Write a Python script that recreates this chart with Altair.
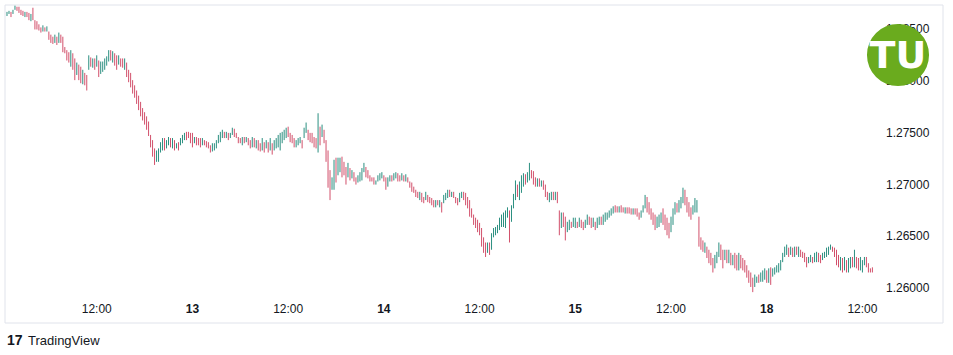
import altair as alt
import pandas as pd

# ---- 15-minute bars (price high / low) ----
high = [
    1.2867, 1.2868, 1.2867, 1.2869, 1.2873, 1.2872, 1.2872, 1.2869, 1.2868, 1.2867,
    1.2867, 1.2866, 1.2865, 1.2871, 1.2859, 1.2858, 1.2855, 1.2852, 1.2854, 1.2852,
    1.2853, 1.2848, 1.2845, 1.2843, 1.2845, 1.2843, 1.2847, 1.2845, 1.2843, 1.2833,
    1.2830, 1.2828, 1.2830, 1.2827, 1.2822, 1.2818, 1.2816, 1.2814, 1.2811, 1.2808,
    1.2806, 1.2825, 1.2823, 1.2822, 1.2822, 1.2825, 1.2820,
    1.2819, 1.2819, 1.2822, 1.2824, 1.2830, 1.2830, 1.2829, 1.2827, 1.2825, 1.2825,
    1.2822, 1.2822, 1.2822, 1.2818, 1.2811, 1.2808, 1.2801, 1.2796, 1.2791, 1.2786,
    1.2780, 1.2774, 1.2770, 1.2766, 1.2761, 1.2748, 1.2743, 1.2735, 1.2733, 1.2735,
    1.2741, 1.2745, 1.2745, 1.2743, 1.2746, 1.2745, 1.2745, 1.2743, 1.2740, 1.2741,
    1.2745, 1.2748, 1.2750, 1.2751, 1.2751, 1.2750, 1.2750, 1.2746, 1.2746, 1.2745,
    1.2745, 1.2745, 1.2743, 1.2742, 1.2741, 1.2738, 1.2740, 1.2740, 1.2743, 1.2748,
    1.2751, 1.2753, 1.2751, 1.2751, 1.2750, 1.2750, 1.2755, 1.2754, 1.2750, 1.2746,
    1.2745, 1.2746, 1.2746, 1.2746, 1.2745, 1.2743, 1.2746, 1.2745, 1.2743, 1.2743,
    1.2740, 1.2745, 1.2741, 1.2743, 1.2741, 1.2745, 1.2740, 1.2743, 1.2745, 1.2748,
    1.2750, 1.2751, 1.2753, 1.2755, 1.2756, 1.2750, 1.2748, 1.2745, 1.2743, 1.2745,
    1.2746, 1.2743, 1.2755, 1.2760, 1.2753, 1.2750, 1.2750, 1.2746, 1.2745, 1.2769,
    1.2756, 1.2758, 1.2753, 1.2743, 1.2733, 1.2714, 1.2707, 1.2724, 1.2726, 1.2726,
    1.2726, 1.2727, 1.2722, 1.2717, 1.2721, 1.2716, 1.2714, 1.2712, 1.2707, 1.2709,
    1.2712, 1.2716, 1.2721, 1.2717, 1.2714, 1.2709, 1.2707, 1.2707, 1.2704, 1.2709,
    1.2711, 1.2712, 1.2709, 1.2707, 1.2707, 1.2709, 1.2709, 1.2711, 1.2712, 1.2711,
    1.2709, 1.2711, 1.2709, 1.2710, 1.2707, 1.2703, 1.2702, 1.2698, 1.2695, 1.2693,
    1.2693, 1.2692, 1.2688, 1.2693, 1.2690, 1.2688, 1.2687, 1.2685, 1.2685, 1.2685,
    1.2685, 1.2683, 1.2690, 1.2692, 1.2695, 1.2695, 1.2693, 1.2693, 1.2688, 1.2687,
    1.2692, 1.2693, 1.2693, 1.2692, 1.2688, 1.2685, 1.2677, 1.2671, 1.2668, 1.2666,
    1.2663, 1.2658, 1.2649, 1.2644, 1.2644, 1.2644, 1.2653, 1.2658, 1.2659, 1.2661,
    1.2668, 1.2671, 1.2673, 1.2675, 1.2678, 1.2675,
    1.2680, 1.2691, 1.2704, 1.2700, 1.2703, 1.2709, 1.2711, 1.2710, 1.2712, 1.2721,
    1.2714, 1.2713, 1.2707, 1.2706, 1.2706, 1.2704, 1.2704, 1.2700, 1.2693, 1.2692,
    1.2693, 1.2693, 1.2693, 1.2693, 1.2675, 1.2673, 1.2673, 1.2669, 1.2664, 1.2666,
    1.2664, 1.2668, 1.2668, 1.2664, 1.2668, 1.2666, 1.2664, 1.2666, 1.2671, 1.2669,
    1.2668, 1.2668, 1.2664, 1.2668, 1.2669, 1.2669, 1.2671, 1.2673, 1.2673,
    1.2675, 1.2677, 1.2679, 1.2680, 1.2679, 1.2679, 1.2680, 1.2678, 1.2678, 1.2678,
    1.2678, 1.2677, 1.2677, 1.2677, 1.2677, 1.2673, 1.2675, 1.2680, 1.2690, 1.2688,
    1.2683, 1.2677, 1.2673, 1.2671, 1.2669, 1.2671, 1.2673, 1.2677, 1.2671, 1.2668,
    1.2663, 1.2669, 1.2677, 1.2683, 1.2682, 1.2685, 1.2688, 1.2697, 1.2695, 1.2688,
    1.2683, 1.2678, 1.2680, 1.2687, 1.2685, 1.2669, 1.2649, 1.2646, 1.2644, 1.2640,
    1.2637, 1.2634, 1.2629, 1.2632, 1.2635, 1.2644, 1.2642, 1.2637, 1.2637, 1.2637,
    1.2637, 1.2634, 1.2632, 1.2634, 1.2632, 1.2634, 1.2632, 1.2629, 1.2627, 1.2622,
    1.2617, 1.2615, 1.2610, 1.2613, 1.2611, 1.2613, 1.2615, 1.2617, 1.2619, 1.2617,
    1.2619, 1.2620, 1.2619, 1.2620, 1.2622, 1.2624, 1.2627, 1.2634, 1.2640, 1.2642,
    1.2639, 1.2640, 1.2639, 1.2640, 1.2640, 1.2640, 1.2637, 1.2635, 1.2634, 1.2630,
    1.2630, 1.2632, 1.2630, 1.2634, 1.2635, 1.2634, 1.2632, 1.2634, 1.2635, 1.2639,
    1.2640, 1.2642, 1.2640, 1.2639, 1.2637, 1.2632, 1.2630, 1.2629, 1.2630, 1.2627,
    1.2629, 1.2630, 1.2630, 1.2637, 1.2630, 1.2629, 1.2630, 1.2627, 1.2630, 1.2630,
    1.2624, 1.2619, 1.2620,
]

low = [
    1.2863, 1.2865, 1.2862, 1.2865, 1.2869, 1.2868, 1.2866, 1.2864, 1.2863, 1.2862,
    1.2862, 1.2859, 1.2858, 1.2859, 1.2850, 1.2850, 1.2849, 1.2847, 1.2848, 1.2848,
    1.2848, 1.2840, 1.2837, 1.2836, 1.2837, 1.2835, 1.2837, 1.2837, 1.2828, 1.2827,
    1.2820, 1.2818, 1.2814, 1.2811, 1.2801, 1.2806, 1.2801, 1.2798, 1.2797, 1.2796,
    1.2791, 1.2811, 1.2814, 1.2813, 1.2811, 1.2814, 1.2804,
    1.2807, 1.2809, 1.2811, 1.2815, 1.2819, 1.2820, 1.2818, 1.2815, 1.2811, 1.2816,
    1.2814, 1.2813, 1.2811, 1.2804, 1.2799, 1.2794, 1.2788, 1.2784, 1.2778, 1.2772,
    1.2766, 1.2762, 1.2758, 1.2753, 1.2747, 1.2736, 1.2727, 1.2719, 1.2722, 1.2722,
    1.2731, 1.2733, 1.2733, 1.2735, 1.2738, 1.2736, 1.2735, 1.2733, 1.2735, 1.2733,
    1.2738, 1.2740, 1.2743, 1.2743, 1.2745, 1.2740, 1.2736, 1.2740, 1.2738, 1.2738,
    1.2736, 1.2738, 1.2738, 1.2736, 1.2735, 1.2731, 1.2732, 1.2733, 1.2735, 1.2740,
    1.2741, 1.2745, 1.2745, 1.2745, 1.2743, 1.2745, 1.2748, 1.2746, 1.2745, 1.2740,
    1.2740, 1.2738, 1.2740, 1.2741, 1.2738, 1.2735, 1.2736, 1.2736, 1.2735, 1.2733,
    1.2732, 1.2733, 1.2731, 1.2735, 1.2731, 1.2733, 1.2729, 1.2733, 1.2735, 1.2736,
    1.2733, 1.2740, 1.2743, 1.2745, 1.2746, 1.2741, 1.2740, 1.2736, 1.2736, 1.2738,
    1.2740, 1.2735, 1.2745, 1.2750, 1.2743, 1.2741, 1.2740, 1.2736, 1.2735, 1.2731,
    1.2738, 1.2746, 1.2740, 1.2722, 1.2697, 1.2685, 1.2695, 1.2695, 1.2702, 1.2709,
    1.2712, 1.2707, 1.2709, 1.2700, 1.2707, 1.2704, 1.2706, 1.2703, 1.2700, 1.2702,
    1.2703, 1.2704, 1.2712, 1.2707, 1.2706, 1.2703, 1.2703, 1.2700, 1.2700, 1.2703,
    1.2704, 1.2706, 1.2703, 1.2695, 1.2698, 1.2703, 1.2703, 1.2704, 1.2706, 1.2703,
    1.2703, 1.2704, 1.2703, 1.2703, 1.2702, 1.2697, 1.2693, 1.2692, 1.2688, 1.2687,
    1.2685, 1.2683, 1.2682, 1.2685, 1.2683, 1.2682, 1.2680, 1.2678, 1.2678, 1.2680,
    1.2678, 1.2673, 1.2682, 1.2685, 1.2687, 1.2688, 1.2688, 1.2687, 1.2682, 1.2680,
    1.2683, 1.2687, 1.2685, 1.2680, 1.2677, 1.2669, 1.2668, 1.2661, 1.2658, 1.2654,
    1.2651, 1.2640, 1.2634, 1.2630, 1.2634, 1.2632, 1.2637, 1.2649, 1.2651, 1.2653,
    1.2656, 1.2659, 1.2659, 1.2658, 1.2668, 1.2644,
    1.2664, 1.2677, 1.2685, 1.2688, 1.2685, 1.2692, 1.2698, 1.2700, 1.2702, 1.2704,
    1.2706, 1.2700, 1.2698, 1.2698, 1.2698, 1.2698, 1.2695, 1.2688, 1.2685, 1.2683,
    1.2685, 1.2685, 1.2685, 1.2682, 1.2651, 1.2658, 1.2659, 1.2646, 1.2654, 1.2656,
    1.2658, 1.2659, 1.2658, 1.2658, 1.2659, 1.2658, 1.2656, 1.2658, 1.2661, 1.2661,
    1.2658, 1.2659, 1.2656, 1.2658, 1.2661, 1.2661, 1.2661, 1.2664, 1.2666,
    1.2668, 1.2670, 1.2672, 1.2673, 1.2673, 1.2673, 1.2673, 1.2673, 1.2672, 1.2672,
    1.2672, 1.2671, 1.2671, 1.2671, 1.2669, 1.2666, 1.2668, 1.2673, 1.2677, 1.2673,
    1.2671, 1.2666, 1.2661, 1.2656, 1.2658, 1.2659, 1.2663, 1.2661, 1.2656, 1.2651,
    1.2648, 1.2654, 1.2661, 1.2671, 1.2673, 1.2673, 1.2677, 1.2682, 1.2680, 1.2673,
    1.2669, 1.2666, 1.2671, 1.2673, 1.2673, 1.2640, 1.2637, 1.2635, 1.2634, 1.2629,
    1.2624, 1.2622, 1.2615, 1.2619, 1.2624, 1.2630, 1.2627, 1.2619, 1.2627, 1.2624,
    1.2624, 1.2622, 1.2622, 1.2619, 1.2617, 1.2617, 1.2619, 1.2617, 1.2615, 1.2610,
    1.2605, 1.2601, 1.2596, 1.2601, 1.2605, 1.2605, 1.2606, 1.2606, 1.2608, 1.2605,
    1.2605, 1.2603, 1.2611, 1.2613, 1.2615, 1.2615, 1.2617, 1.2625, 1.2630, 1.2632,
    1.2630, 1.2632, 1.2630, 1.2630, 1.2632, 1.2630, 1.2630, 1.2629, 1.2625, 1.2620,
    1.2624, 1.2625, 1.2624, 1.2625, 1.2625, 1.2625, 1.2624, 1.2627, 1.2629, 1.2630,
    1.2632, 1.2637, 1.2635, 1.2630, 1.2622, 1.2620, 1.2617, 1.2615, 1.2617, 1.2615,
    1.2615, 1.2619, 1.2620, 1.2620, 1.2619, 1.2617, 1.2617, 1.2615, 1.2622, 1.2620,
    1.2615, 1.2615, 1.2615,
]

# u = close above open (rising bar), d = falling bar
direction = """
u u d u u d d d d u  d d u d d d d d u d  u d d d u d u d d d  d d u d d u d d u d  d u d u d u d
u u u u u d u d d u  d d u d d d d d d d  d d d d d d d d u u  u u d u u d u d u d  u u u d d d d u d d
d u d d d d u u u u  u u d u d u u d d d  d u d u d d u d u d  d u d u d u d u u u  u u u u d d d d u u
u d u u d d d d d u  d u d d d d u u d u  u d d d u d u d d u  u u u d d d d d u u  u u d d u u d u u d
d u d u d d d d d d  u d d u d d d d u d  u d u u u d u d d d  u u d d d d d d d d  d d d d u d u u u u  u u u u u d
u u u d u u u d u u  d d d u d u d d d u  u d u d d u d d u u  d u u d u d d u u d  d u d u u d u u u
u u u d d u d d u d  d d u d d d u u u d  d d d d u u u d d d  d u u u d u u u d d  d d u u u d d d u d
d d d u u u d d u d  u d u d d u d d d d  d d d u u d u u u d  u d u u u u u u u u  d u d u d u d d d d
u u d u u d d u u u  u u d d d d u d u d  u u d u d d u u u d  d d d
""".split()

# ---- time axis (bar index of each labelled time) and price axis ----
tick_bars = [45, 93, 141, 189, 237, 285, 333, 381, 429]
tick_labels = ["12:00", "13", "12:00", "14", "12:00", "15", "12:00", "18", "12:00"]
price_ticks = [1.26, 1.265, 1.27, 1.275, 1.28, 1.285]

n = min(len(high), len(low), len(direction))
bars = pd.DataFrame({
    "bar": list(range(n)),
    "high": high[:n],
    "low": low[:n],
    "dir": direction[:n],
})
xticks = pd.DataFrame({"bar": tick_bars, "label": tick_labels})
yticks = pd.DataFrame({"price": price_ticks})
one = pd.DataFrame({"k": [0]})

W, H = 953, 355
FONT = "Liberation Sans"
TXT = "#131722"
UP, DOWN = "#2b8f80", "#d2506b"

xs = alt.Scale(domain=[-3.51, 474.42], nice=False, zero=False)
ys = alt.Scale(domain=[1.253521, 1.28785], nice=False, zero=False)

frame = alt.Chart(one).mark_rect(
    fillOpacity=0, stroke="#e0e3eb", strokeWidth=1
).encode(x=alt.value(5), x2=alt.value(943), y=alt.value(5), y2=alt.value(323))

candles = alt.Chart(bars).mark_rule(strokeWidth=1).encode(
    x=alt.X("bar:Q", scale=xs, axis=None),
    y=alt.Y("low:Q", scale=ys, axis=None),
    y2="high:Q",
    color=alt.Color("dir:N", scale=alt.Scale(domain=["u", "d"], range=[UP, DOWN]), legend=None),
)

xlab_time = alt.Chart(xticks).transform_filter(
    "indexof(datum.label, ':') >= 0"
).mark_text(font=FONT, fontSize=12, color=TXT, baseline="middle").encode(
    x=alt.X("bar:Q", scale=xs, axis=None), y=alt.value(309), text="label:N"
)
xlab_day = alt.Chart(xticks).transform_filter(
    "indexof(datum.label, ':') < 0"
).mark_text(font=FONT, fontSize=12, fontWeight="bold", color=TXT, baseline="middle").encode(
    x=alt.X("bar:Q", scale=xs, axis=None), y=alt.value(309), text="label:N"
)

ylab = alt.Chart(yticks).mark_text(
    font=FONT, fontSize=12, color=TXT, align="left", baseline="middle"
).encode(
    x=alt.value(886),
    y=alt.Y("price:Q", scale=ys, axis=None),
    text=alt.Text("price:Q", format=".5f"),
)

logo_circle = alt.Chart(one).mark_circle(size=3850, color="#6aab1e", opacity=1).encode(
    x=alt.value(898), y=alt.value(55)
)
logo_text = alt.Chart(one).mark_text(
    text="TU", font="DejaVu Sans", fontSize=38, fontWeight="bold", color="white",
    align="center", baseline="middle"
).encode(x=alt.value(898), y=alt.value(57))

tv_mark = alt.Chart(one).mark_text(
    text="17", font=FONT, fontSize=14, fontWeight="bold", color=TXT,
    align="left", baseline="middle"
).encode(x=alt.value(7), y=alt.value(341))
tv_text = alt.Chart(one).mark_text(
    text="TradingView", font=FONT, fontSize=13, color=TXT,
    align="left", baseline="middle"
).encode(x=alt.value(28), y=alt.value(341))

chart = alt.layer(
    frame, candles, xlab_time, xlab_day, ylab, logo_circle, logo_text, tv_mark, tv_text
).properties(
    width=W, height=H, padding=0, background="white",
    autosize=alt.AutoSizeParams(type="none"),
).configure_view(strokeWidth=0)

chart.save("out.html", embed_options={"renderer": "svg", "actions": False})
